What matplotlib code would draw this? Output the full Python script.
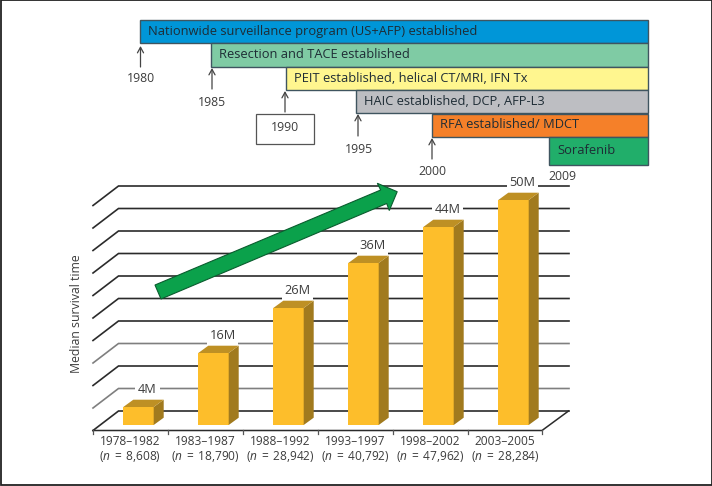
import numpy as np
import matplotlib
matplotlib.use("Agg")
import matplotlib.pyplot as plt
from matplotlib.patches import Polygon, Rectangle

plt.rcParams['font.family'] = ['Open Sans', 'DejaVu Sans']
plt.rcParams['mathtext.fontset'] = 'custom'
plt.rcParams['mathtext.it'] = 'Open Sans:italic'
plt.rcParams['mathtext.rm'] = 'Open Sans'

periods = ["1978–1982", "1983–1987", "1988–1992", "1993–1997", "1998–2002", "2003–2005"]
patients = ["8,608", "18,790", "28,942", "40,792", "47,962", "28,284"]
survival = [4, 16, 26, 36, 44, 50]
survival_labels = ["4M", "16M", "26M", "36M", "44M", "50M"]
grid_levels = [0, 5, 10, 15, 20, 25, 30, 35, 40, 45, 50]
grid_gray = [5, 15]

timeline_text = ["Nationwide surveillance program (US+AFP) established",
                 "Resection and TACE established",
                 "PEIT established, helical CT/MRI, IFN Tx",
                 "HAIC established, DCP, AFP-L3",
                 "RFA established/ MDCT",
                 "Sorafenib"]
timeline_year = ["1980", "1985", "1990", "1995", "2000", "2009"]
timeline_color = ["#0096D8", "#7FCBA4", "#FFF68F", "#BDBEC2", "#F58029", "#21AE6A"]

W, H = 712, 486
fig = plt.figure(figsize=(W/100, H/100), dpi=100, facecolor="white")
px = fig.add_axes([0, 0, 1, 1])
px.set_xlim(0, W); px.set_ylim(H, 0); px.axis("off")

TXT = "#3c3c3c"

# outer frame
px.add_patch(Rectangle((0.5, 0.5), W-1, 484, fc="none", ec="#222222", lw=1.3))

# timeline
starts = [140, 211, 286, 356, 432, 549]
tops = [20, 43.5, 67, 90, 113.5, 137]
bots = [43.5, 67, 90, 113.5, 137, 164.5]
right = 647.5
for s, t, b, c, lab in zip(starts, tops, bots, timeline_color, timeline_text):
    px.add_patch(Rectangle((s, t), right-s, b-t, fc=c, ec="#3f5560", lw=1, zorder=2))
    px.text(s+8, (t+b)/2-0.5, lab, fontsize=9.25, color="#1e2c35", va="center", ha="left", zorder=3)

arrows = [(140.5, 67, 46), (212, 89, 68), (285, 112, 91), (358, 136, 114), (432, 159, 138)]
for x, y0, y1 in arrows:
    px.annotate("", xy=(x, y1), xytext=(x, y0),
                arrowprops=dict(arrowstyle="->,head_width=0.22,head_length=0.4", color="#444444", lw=0.9,
                                shrinkA=0, shrinkB=0))
ylab = [(140.5, 78), (212, 102), (285, 127.5), (358.5, 149), (432, 171), (562, 176)]
for (x, y), lab in zip(ylab, timeline_year):
    px.text(x, y, lab, fontsize=8.8, color=TXT, ha="center", va="center", zorder=4)
px.add_patch(Rectangle((255.5, 113.5), 58, 30, fc="white", ec="#555555", lw=0.9, zorder=3))

# chart axes: y = months of survival on the front plane
base_y = 425.0
ppm = 4.5            # px per month
ax = fig.add_axes([0, 0, 1, 1], facecolor="none")
ax.axis("off")
ax.set_ylim(-(H-base_y)/ppm, base_y/ppm)
x0 = 123.3; step = 75.0
ax.set_xlim(-x0/step, (W-x0)/step)
bw = 30.4/step
dx, dy = 10.0/step, 7.3/ppm

# back wall lines with slanted left side walls
for lv in grid_levels:
    y = base_y - ppm*lv - 14
    col = "#7f7f7f" if lv in grid_gray else "#2b2b2b"
    px.plot([93, 118.5, 569], [y+19.5, y, y], color=col, lw=1.2, zorder=1, solid_joinstyle="miter")
# floor
px.plot([93, 542, 568.5], [430.5, 430.5, 411], color="#2b2b2b", lw=1.1, zorder=1)
for i in range(7):
    x = 93 + i*74.9
    px.plot([x, x], [430, 434], color="#555555", lw=0.9)

# bars
front = "#FDBE2B"; side = "#A17A1E"; topc = "#BE9024"
for i, v in enumerate(survival):
    ax.add_patch(Rectangle((i, 0), bw, v, fc=front, ec="none", zorder=5))
    ax.add_patch(Polygon([(i+bw, 0), (i+bw+dx, dy), (i+bw+dx, v+dy), (i+bw, v)], fc=side, ec="none", zorder=5))
    ax.add_patch(Polygon([(i, v), (i+bw, v), (i+bw+dx, v+dy), (i+dx, v+dy)], fc=topc, ec="none", zorder=5))
    ax.text(i+bw/2+dx/2+4/step, v+dy+10/ppm, survival_labels[i], fontsize=9.2, color=TXT, ha="center", va="center",
            zorder=6, bbox=dict(fc="white", ec="none", pad=2))

for i, (p, n) in enumerate(zip(periods, patients)):
    cx = 93 + (i+0.5)*74.9
    px.text(cx, 441.5, p, fontsize=8.6, color=TXT, ha="center", va="center")
    px.text(cx, 456, rf"($\mathit{{n}}\,$ = $\,${n})", fontsize=8.6, color=TXT, ha="center", va="center")

px.text(76, 314, "Median survival time", rotation=90, fontsize=8.85, color=TXT, ha="center", va="center")

# big arrow
arrow_pts = [(155, 285), (380.7, 190), (377.3, 183.3), (397.2, 191.7), (389.3, 210.5), (386.7, 203.5), (161, 299)]
px.add_patch(Polygon(arrow_pts, closed=True, fc="#0BA14B", ec="#0a5c2e", lw=0.8, zorder=8))
px.set_zorder(3); ax.set_zorder(4)
fig.savefig("out.png", dpi=100)
